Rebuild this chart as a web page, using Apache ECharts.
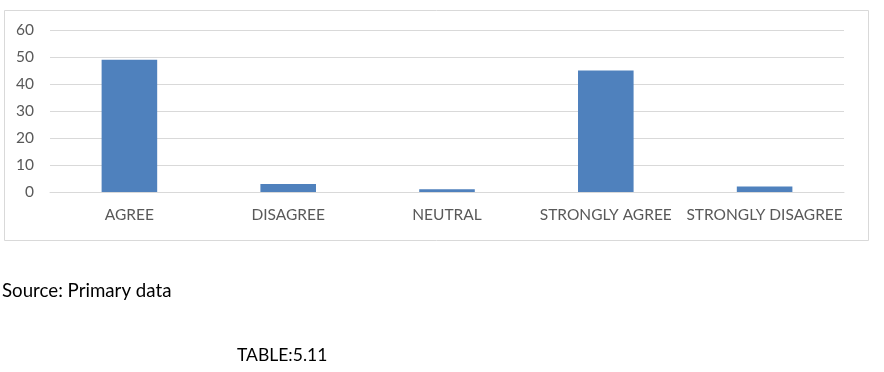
<!DOCTYPE html>
<html><head><meta charset="utf-8">
<script src="https://cdn.jsdelivr.net/npm/echarts@6/dist/echarts.min.js"></script>
<style>html,body{margin:0;padding:0;background:#fff}#c{width:884px;height:372px}</style>
</head><body><div id="c"></div>
<script>
const categories = ['AGREE','DISAGREE','NEUTRAL','STRONGLY AGREE','STRONGLY DISAGREE'];
const values = [49, 3, 1, 45, 2];
const yTicks = [0, 10, 20, 30, 40, 50, 60];
const sourceText = 'Source: Primary data';
const tableText = 'TABLE:5.11';

const chart = echarts.init(document.getElementById('c'), null, {renderer:'canvas'});
chart.setOption({
  animation: false,
  backgroundColor: '#fff',
  grid: {left: 50, right: 40, top: 30, height: 162, containLabel: false},
  xAxis: {
    type: 'category', data: categories,
    axisLine: {lineStyle: {color: '#d9d9d9', width: 1}},
    axisTick: {show: false},
    axisLabel: {color: '#595959', fontFamily: 'Lato', fontSize: 15.5, margin: 15, interval: 0}
  },
  yAxis: {
    type: 'value', min: yTicks[0], max: yTicks[yTicks.length-1], interval: 10,
    axisLine: {show: false}, axisTick: {show: false},
    splitLine: {lineStyle: {color: '#d9d9d9', width: 1}},
    axisLabel: {color: '#595959', fontFamily: 'Lato', fontSize: 15.5, margin: 16, align: 'right'}
  },
  series: [{
    type: 'bar', data: values, barWidth: '35%',
    itemStyle: {color: '#4f81bd'}
  }],
  graphic: [
    {type: 'rect', left: 2, top: 8, shape: {width: 864, height: 230}, style: {fill: 'none', stroke: '#d9d9d9', lineWidth: 1}, z: -1},
    {type: 'text', left: 2, top: 281, style: {text: sourceText, fill: '#000', font: '18.7px Lato'}},
    {type: 'text', left: 237, top: 346, style: {text: tableText, fill: '#000', font: '17.5px Lato'}}
  ]
});
</script></body></html>
